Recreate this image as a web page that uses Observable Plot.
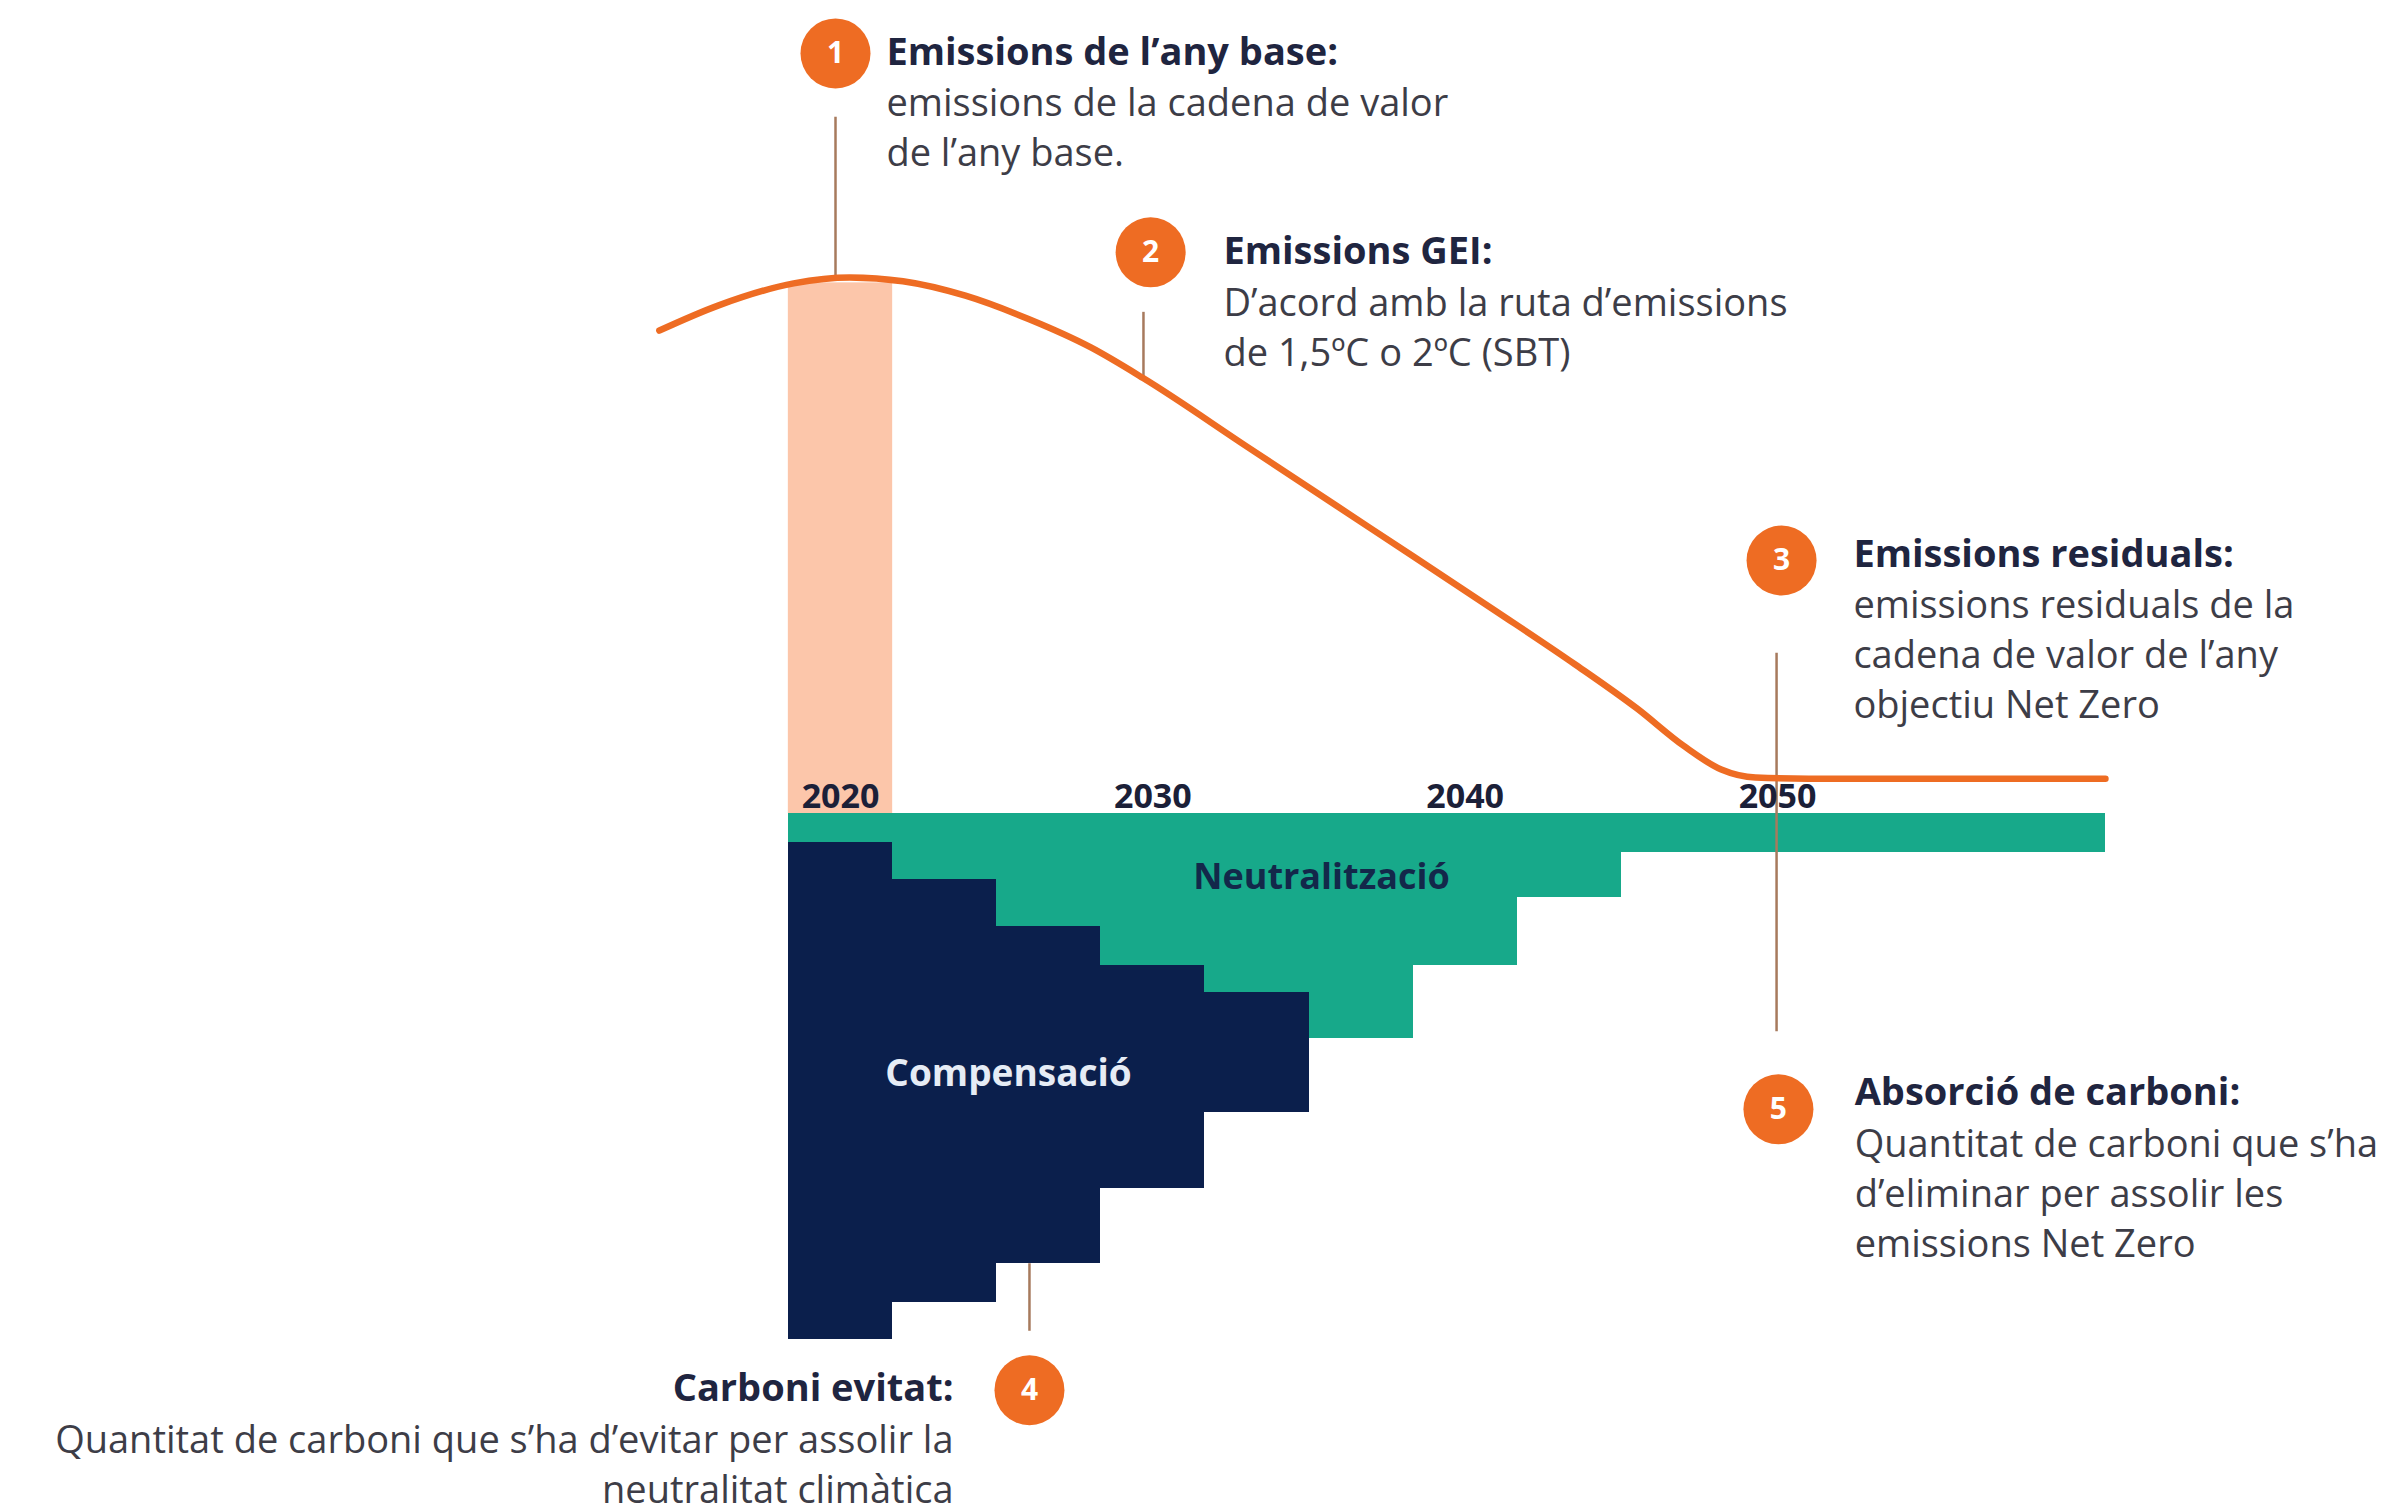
<!DOCTYPE html>
<html><head><meta charset="utf-8">
<script src="https://cdn.jsdelivr.net/npm/d3@7"></script>
<script src="https://cdn.jsdelivr.net/npm/@observablehq/plot@0.6"></script>
<style>html,body{margin:0;padding:0;background:#fff;} #chart svg{display:block;}</style>
</head><body><div id="chart"></div>
<script>
// Emissions pathway (orange curve)
const curveYears  = [2014.2, 2016.1, 2018.5, 2020.3, 2022.0, 2024.0, 2026.0, 2028.0, 2029.7, 2033.0, 2037.0, 2041.0, 2043.5, 2045.5, 2047.0, 2048.2, 2049.3, 2051.0, 2060.5];
const curveValues = [90.1, 94.8, 98.9, 100, 99.3, 96.6, 92.3, 87.0, 81.2, 68.5, 53.1, 37.7, 27.9, 19.6, 12.6, 8.2, 6.7, 6.5, 6.5];

// Base-year bar
const baseYearStart = 2018.33;
const baseYearEnd = 2021.67;
const baseYearValue = 99;

// Removal steps
const stepStart    = [2018.33, 2021.67, 2025.0, 2028.33, 2031.67, 2035.0, 2038.33, 2041.67, 2045.0];
const stepEnd      = [2021.67, 2025.0, 2028.33, 2031.67, 2035.0, 2038.33, 2041.67, 2045.0, 2060.5];
const neutralDepth = [-5.4, -12.3, -21.1, -28.4, -33.4, -42.0, -28.4, -15.7, -7.3];
const compDepth    = [-98.1, -91.2, -84.0, -70.0, -55.8, null, null, null, null];

// Axis tick labels
const yearTicks = [2020, 2030, 2040, 2050];

// Numbered markers
const markerNum = [1, 2, 3, 4, 5];
const markerX   = [2019.84, 2029.93, 2050.13, 2026.05, 2050.03];
const markerY   = [141.8, 104.7, 47.2, -107.6, -55.2];

// Leader lines
const leaderX      = [2019.84, 2029.70, 2049.97, 2026.05];
const leaderTop    = [129.9, 93.5, 29.9, -84.0];
const leaderBottom = [100, 81.2, -40.7, -96.6];

// Annotation texts
const noteX      = [2021.47, 2032.26, 2052.43, 2023.62, 2052.47];
const noteY      = [142.0, 104.7, 48.3, -107.4, -52.2];
const noteAnchor = ["start", "start", "start", "end", "start"];
const noteTitle  = ["Emissions de l’any base:", "Emissions GEI:", "Emissions residuals:", "Carboni evitat:", "Absorció de carboni:"];
const noteBody   = [
  "emissions de la cadena de valor\nde l’any base.",
  "D’acord amb la ruta d’emissions\nde 1,5ºC o 2ºC (SBT)",
  "emissions residuals de la\ncadena de valor de l’any\nobjectiu Net Zero",
  "Quantitat de carboni que s’ha d’evitar per assolir la\nneutralitat climàtica",
  "Quantitat de carboni que s’ha\nd’eliminar per assolir les\nemissions Net Zero"
];

// Area labels
const areaLabel  = ["Neutralització", "Compensació"];
const areaLabelX = [2035.4, 2025.38];
const areaLabelY = [-11.9, -48.7];

// ---- build tables ----
const curve = curveYears.map((x, i) => ({x, y: curveValues[i]}));
const steps = stepStart.map((s, i) => ({start: s, end: stepEnd[i], neutral: neutralDepth[i], comp: compDepth[i]}));
const base = [{x1: baseYearStart, x2: baseYearEnd, y1: 0, y2: baseYearValue}];
const markers = markerNum.map((n, i) => ({n, x: markerX[i], y: markerY[i]}));
const leaders = leaderX.map((x, i) => ({x, top: leaderTop[i], bottom: leaderBottom[i]}));
const notes = noteX.map((x, i) => ({x, y: noteY[i], anchor: noteAnchor[i], title: noteTitle[i], body: noteBody[i]}));
const areas = areaLabel.map((t, i) => ({t, x: areaLabelX[i], y: areaLabelY[i]}));

const TITLE = "#1f2540", BODY = "#3d3d47", ORANGE = "#ee6c23";
const noteMarks = [];
for (const anchor of ["start", "end"]) {
  const sub = notes.filter(d => d.anchor === anchor);
  noteMarks.push(
    Plot.text(sub, {x: "x", y: "y", text: "title", textAnchor: anchor, lineAnchor: "middle",
      fontSize: 38, fontWeight: 700, fill: TITLE}),
    Plot.text(sub, {x: "x", y: "y", text: "body", textAnchor: anchor, lineAnchor: "top",
      dy: 28, lineHeight: 1.316, fontSize: 38, fill: BODY})
  );
}

const chart = Plot.plot({
  width: 2391,
  height: 1510,
  marginLeft: 840,
  marginRight: 614,
  marginTop: 277,
  marginBottom: 697,
  x: {domain: [2020, 2050], axis: null},
  y: {domain: [0, 100], axis: null},
  style: {fontFamily: "'Open Sans', sans-serif", background: "#fff", overflow: "visible"},
  marks: [
    Plot.rect(base, {x1: "x1", x2: "x2", y1: "y1", y2: "y2", fill: "#fcc6aa"}),
    Plot.rect(steps, {x1: "start", x2: "end", y1: 0, y2: "neutral", fill: "#17a98a", shapeRendering: "crispEdges"}),
    Plot.rect(steps.filter(d => d.comp != null), {x1: "start", x2: "end", y1: "neutral", y2: "comp", fill: "#0b1f4c", shapeRendering: "crispEdges"}),
    Plot.ruleX(leaders, {x: "x", y1: "top", y2: "bottom", stroke: "#a77a5d", strokeWidth: 2.5}),
    Plot.line(curve, {x: "x", y: "y", stroke: ORANGE, strokeWidth: 6.5, curve: "monotone-x"}),
    Plot.axisX(yearTicks, {anchor: "bottom", tickSize: 0, tickPadding: 0, dy: -30,
      tickFormat: d => String(d), fontSize: 34, fontWeight: 700, color: "#1b2038"}),
    Plot.text(areas.slice(0, 1), {x: "x", y: "y", text: "t", fontSize: 36, fontWeight: 700, fill: "#13284a"}),
    Plot.text(areas.slice(1), {x: "x", y: "y", text: "t", fontSize: 37, fontWeight: 700, fill: "#e6ecf5"}),
    Plot.dot(markers, {x: "x", y: "y", r: 35, fill: ORANGE}),
    Plot.text(markers, {x: "x", y: "y", text: d => String(d.n), fill: "#fff", fontSize: 30, fontWeight: 700}),
    ...noteMarks
  ]
});
document.getElementById("chart").append(chart);
</script>
</body></html>
